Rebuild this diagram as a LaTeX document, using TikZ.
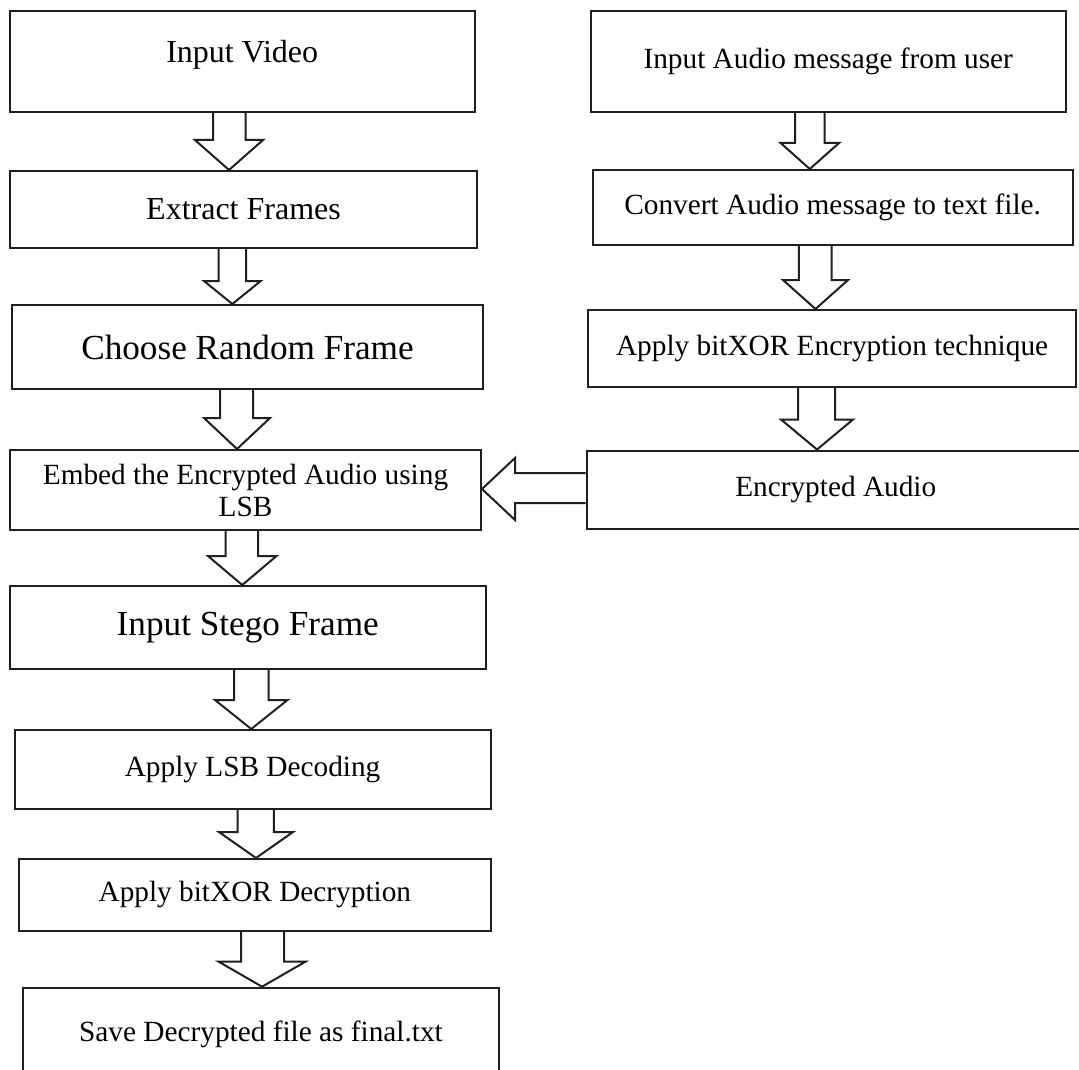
\documentclass[tikz,border=0pt]{standalone}
\usepackage{fontspec}
\setmainfont{Liberation Serif}
\usetikzlibrary{calc}
\tikzset{
  box/.style={draw=black!88, line width=2pt, inner sep=0pt, align=center},
  blkarrow/.style={draw=black!88, line width=2pt, line join=miter},
  fs/.style={font=\fontsize{29.3pt}{32pt}\selectfont},
  fm/.style={font=\fontsize{32pt}{36pt}\selectfont},
  fl/.style={font=\fontsize{35.2pt}{40pt}\selectfont},
}
% block arrow pointing down: from, to, shaft left, shaft right, head left, head right, head height
\newcommand\blockdown[7]{%
  \draw[blkarrow] let \p1=(#1.south), \p2=(#2.north) in
    (#3pt,\y1) -- (#3pt,\y2+#7pt) -- (#5pt,\y2+#7pt) -- ({((#5+#6)/2)*1pt},\y2)
    -- (#6pt,\y2+#7pt) -- (#4pt,\y2+#7pt) -- (#4pt,\y1);}
\begin{document}
\begin{tikzpicture}[x=1pt,y=-1pt]
\useasboundingbox (0,0) rectangle (1079,1070);
\clip (0,0) rectangle (1079,1070);
\fill[white] (0,0) rectangle (1079,1070);
% left column
\node[box,fm,minimum width=464.5pt,minimum height=101pt] (iv) at (242.25,61.5) {\raisebox{7pt}[\height][\depth]{Input Video}};
\node[box,fm,minimum width=467pt,minimum height=77pt] (ef) at (243.5,209.5) {Extract Frames};
\node[box,fl,minimum width=471pt,minimum height=84pt] (cr) at (247.5,347) {Choose Random Frame};
\node[box,fs,minimum width=471pt,minimum height=80pt] (em) at (245.5,490) {Embed the Encrypted Audio using\\LSB};
\node[box,fl,minimum width=475.5pt,minimum height=83pt] (sf) at (247.75,627.5) {Input Stego Frame};
\node[box,fs,minimum width=476.2pt,minimum height=78.7pt] (ld) at (252.6,769.35) {Apply LSB Decoding};
\node[box,fs,minimum width=471.7pt,minimum height=71.7pt] (xd) at (254.85,894.85) {Apply bitXOR Decryption};
\node[box,fs,minimum width=475.2pt,minimum height=92.3pt] (sv) at (261,1033.85) {Save Decrypted file as final.txt};
% right column
\node[box,fs,minimum width=475.5pt,minimum height=101pt] (ia) at (828.25,61.5) {Input Audio message from user};
\node[box,fs,minimum width=480.2pt,minimum height=75pt] (ca) at (832.7,207.5) {Convert Audio message to text file.};
\node[box,fs,minimum width=487.4pt,minimum height=77pt] (xe) at (832.1,348.5) {Apply bitXOR Encryption technique};
\node[box,fs,minimum width=498.5pt,minimum height=78.5pt] (ea) at (835.75,489.75) {Encrypted Audio};
% block arrows
\blockdown{iv}{ef}{213}{245.5}{195}{263}{30}
\blockdown{ef}{cr}{218.7}{246}{204}{260.7}{23}
\blockdown{cr}{em}{220}{253}{204}{270}{31}
\blockdown{em}{sf}{225.5}{258}{208}{276.5}{29}
\blockdown{sf}{ld}{234}{268.6}{215}{287.5}{29}
\blockdown{ld}{xd}{237.6}{273.8}{219}{293}{26}
\blockdown{xd}{sv}{241}{284}{218.7}{305.4}{25}
\blockdown{ia}{ca}{795}{824.6}{780.6}{839}{26}
\blockdown{ca}{xe}{798.9}{831.5}{783}{848}{29}
\blockdown{xe}{ea}{798}{835}{781}{853}{30}
\draw[blkarrow] let \p1=(ea.west), \p2=(em.east) in
  (\x1,-473pt) -- (515pt,-473pt) -- (515pt,-458pt) -- (\x2,-489pt)
  -- (515pt,-520pt) -- (515pt,-503pt) -- (\x1,-503pt);
\end{tikzpicture}
\end{document}
